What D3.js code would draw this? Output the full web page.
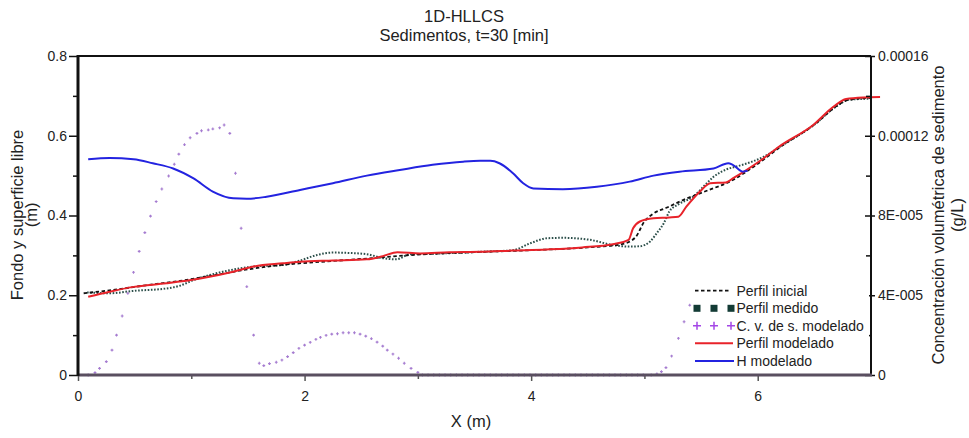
<!DOCTYPE html>
<html>
<head>
<meta charset="utf-8">
<script src="https://cdn.jsdelivr.net/npm/d3@7"></script>
<style>
  html, body { margin: 0; padding: 0; background: #fff; }
  svg { display: block; font-family: "Liberation Sans", Arial, sans-serif; }
</style>
</head>
<body>
<svg id="chart" width="969" height="438"></svg>
<script>
// ---------- DATA ----------
const titleLines = ["1D-HLLCS", "Sedimentos, t=30 [min]"];
const xTicks = [0, 2, 4, 6];
const xMinorTicks = [1, 3, 5];
const leftTicks = [0, 0.2, 0.4, 0.6, 0.8];
const leftTickLabels = ["0", "0.2", "0.4", "0.6", "0.8"];
const leftMinorTicks = [0.1, 0.3, 0.5, 0.7];
const rightTicks = [0, 0.00004, 0.00008, 0.00012, 0.00016];
const rightTickLabels = ["0", "4E-005", "8E-005", "0.00012", "0.00016"];
const rightMinorTicks = [0.00002, 0.00006, 0.0001, 0.00014];

// H modelado (free surface, m)
const hX = [0.09,0.28,0.49,0.66,0.84,1.02,1.19,1.37,1.49,1.665,1.96,2.25,2.55,2.84,3.13,3.40,3.55,3.64,3.72,3.84,3.93,4.02,4.28,4.58,4.87,5.08,5.31,5.61,5.74,5.78,5.87,5.91];
const hY = [0.541,0.544,0.541,0.531,0.518,0.493,0.460,0.443,0.442,0.447,0.464,0.481,0.500,0.514,0.527,0.535,0.537,0.537,0.531,0.506,0.481,0.468,0.466,0.472,0.485,0.500,0.510,0.518,0.531,0.527,0.510,0.512];

// Perfil modelado (bed, m)
const redX = [0.09,0.28,0.49,0.78,1.08,1.37,1.55,1.81,1.96,2.25,2.55,2.69,2.82,3.02,3.28,3.55,3.84,4.14,4.45,4.72,4.86,4.90,4.96,5.08,5.22,5.30,5.37,5.49,5.58,5.72,5.78,5.90,6.05,6.19,6.49,6.67,6.78,6.93,7.08];
const redY = [0.196,0.209,0.221,0.230,0.242,0.259,0.272,0.280,0.284,0.287,0.290,0.298,0.308,0.305,0.308,0.309,0.312,0.315,0.320,0.328,0.339,0.368,0.385,0.393,0.395,0.397,0.422,0.460,0.481,0.483,0.493,0.514,0.543,0.573,0.627,0.673,0.692,0.696,0.697];

// Perfil inicial (m)
const iniX = [0.05,0.3,0.6,0.9,1.2,1.5,1.8,2.2,2.6,3.0,3.5,4.0,4.5,4.8,4.92,5.0,5.08,5.2,5.35,5.55,5.78,5.9,6.05,6.2,6.5,6.7,6.8,7.0];
const iniY = [0.205,0.213,0.225,0.236,0.250,0.265,0.276,0.285,0.293,0.302,0.308,0.313,0.320,0.328,0.345,0.385,0.405,0.420,0.440,0.462,0.489,0.510,0.540,0.572,0.628,0.675,0.690,0.695];

// Perfil medido (m)
const medX = [0.08,0.28,0.49,0.78,0.90,1.02,1.22,1.55,1.81,1.96,2.11,2.25,2.40,2.55,2.69,2.81,2.93,3.13,3.55,3.84,3.99,4.14,4.28,4.52,4.72,4.87,4.96,5.05,5.12,5.17,5.22,5.30,5.43,5.55,5.61,5.72,5.84,5.95,6.05,6.2,6.5,6.7,6.8,7.0];
const medY = [0.207,0.205,0.211,0.217,0.224,0.238,0.255,0.272,0.276,0.287,0.301,0.307,0.306,0.303,0.293,0.290,0.303,0.304,0.309,0.313,0.330,0.343,0.344,0.339,0.326,0.322,0.323,0.335,0.360,0.380,0.410,0.428,0.447,0.481,0.497,0.515,0.525,0.535,0.547,0.573,0.628,0.675,0.690,0.693];

// C. v. de s. modelado (g/L), right axis
const concX = [0.09,0.15,0.19,0.25,0.30,0.34,0.39,0.44,0.49,0.54,0.59,0.64,0.69,0.74,0.80,0.85,0.89,0.94,0.99,1.05,1.09,1.15,1.19,1.25,1.29,1.34,1.39,1.44,1.49,1.55,1.60,1.64,1.69,1.75,1.80,1.85,1.90,1.95,2.00,2.05,2.10,2.14,2.19,2.24,2.29,2.34,2.39,2.44,2.49,2.54,2.59,2.64,2.69,2.73,2.78,2.83,2.88,2.94,3.00,3.04,
  3.09,3.14,3.19,3.24,3.29,3.34,3.39,3.44,3.49,3.54,3.59,3.64,3.69,3.74,3.79,3.84,3.89,3.94,3.99,4.04,4.09,4.14,4.19,4.24,4.29,4.34,4.39,4.44,4.49,4.54,4.59,4.64,4.69,4.74,4.79,4.84,4.89,4.94,4.99,
  5.06,5.11,5.15,5.19,5.24,5.30,5.35,5.40];
const concY = [0,0.0000012,0.0000033,0.0000067,0.0000125,0.00002,0.0000296,0.000041,0.0000515,0.000062,0.0000714,0.0000797,0.000087,0.0000933,0.0000998,0.0001057,0.0001108,0.0001155,0.000119,0.0001212,0.0001225,0.0001229,0.0001234,0.000124,0.0001254,0.0001212,0.0001012,0.0000736,0.0000443,0.00002,0.0000059,0.0000047,0.0000057,0.0000064,0.0000075,0.0000092,0.0000112,0.0000134,0.000015,0.0000164,0.0000179,0.0000189,0.0000199,0.0000205,0.0000207,0.0000212,0.0000212,0.0000212,0.0000205,0.0000195,0.0000182,0.0000165,0.0000145,0.0000125,0.0000105,0.0000084,0.0000059,0.0000033,0.0000013,0,
  0,0,0,0,0,0,0,0,0,0,0,0,0,0,0,0,0,0,0,0,0,0,0,0,0,0,0,0,0,0,0,0,0,0,0,0,0,0,0,
  0,0.0000005,0.0000017,0.0000037,0.0000095,0.0000184,0.0000267,0.000035];

const legendLabels = ["Perfil inicial", "Perfil medido", "C. v. de s. modelado", "Perfil modelado", "H modelado"];

// ---------- CHART ----------
const svg = d3.select("#chart");
const L = 78, R = 871, T = 56, B = 375;
const x = d3.scaleLinear().domain([0, 7]).range([L, R]);
const yL = d3.scaleLinear().domain([0, 0.8]).range([B, T]);
const yR = d3.scaleLinear().domain([0, 0.00016]).range([B, T]);
const textColor = "#222";

// title
svg.append("text").attr("x", 464).attr("y", 22).attr("text-anchor", "middle")
  .attr("font-size", 16.5).attr("fill", textColor).text(titleLines[0]);
svg.append("text").attr("x", 464).attr("y", 41).attr("text-anchor", "middle")
  .attr("font-size", 16.5).attr("fill", textColor).text(titleLines[1]);

const zip = (a, b) => a.map((v, i) => [v, b[i]]);
const lineL = d3.line().x(d => x(d[0])).y(d => yL(d[1])).curve(d3.curveMonotoneX);

// concentration markers
const conc = zip(concX, concY);
svg.append("g").selectAll("path").data(conc).join("path")
  .attr("d", d => {
    const cx = x(d[0]), cy = yR(d[1]), s = 1.4;
    return `M${cx - s},${cy}H${cx + s}M${cx},${cy - s}V${cy + s}`;
  })
  .attr("stroke", "#a57bd0").attr("stroke-width", 1.1).attr("fill", "none");

// medido
svg.append("path").datum(zip(medX, medY)).attr("d", lineL)
  .attr("fill", "none").attr("stroke", "#2c4f4a").attr("stroke-width", 2)
  .attr("stroke-dasharray", "1.6,1.6");
// inicial
svg.append("path").datum(zip(iniX, iniY)).attr("d", lineL)
  .attr("fill", "none").attr("stroke", "#111").attr("stroke-width", 1.8)
  .attr("stroke-dasharray", "3.5,2.5");
// red
svg.append("path").datum(zip(redX, redY)).attr("d", lineL)
  .attr("fill", "none").attr("stroke", "#e8232a").attr("stroke-width", 2);
// blue
svg.append("path").datum(zip(hX, hY)).attr("d", lineL)
  .attr("fill", "none").attr("stroke", "#2323e0").attr("stroke-width", 2);

// ---------- AXES ----------
function styleAxis(g, color) {
  g.select(".domain").remove();
  g.selectAll("line").attr("stroke", color).attr("stroke-width", 1.5);
  g.selectAll("text").attr("fill", textColor).attr("font-size", 14)
    .attr("font-family", '"Liberation Sans", Arial, sans-serif');
}
// left
svg.append("g").attr("transform", `translate(${L},0)`)
  .call(d3.axisLeft(yL).tickValues(leftTicks).tickSize(9).tickPadding(2)
    .tickFormat((d, i) => leftTickLabels[i]))
  .call(g => styleAxis(g, "#111"));
svg.append("g").attr("transform", `translate(${L},0)`)
  .call(d3.axisLeft(yL).tickValues(leftMinorTicks).tickSize(5).tickFormat(""))
  .call(g => styleAxis(g, "#111"));
// right
svg.append("g").attr("transform", `translate(${R},0)`)
  .call(d3.axisRight(yR).tickValues(rightTicks).tickSize(4).tickPadding(3)
    .tickFormat((d, i) => rightTickLabels[i]))
  .call(g => styleAxis(g, "#111"));
svg.append("g").attr("transform", `translate(${R},0)`)
  .call(d3.axisLeft(yR).tickValues(rightTicks).tickSize(6).tickFormat(""))
  .call(g => styleAxis(g, "#111"));
svg.append("g").attr("transform", `translate(${R},0)`)
  .call(d3.axisLeft(yR).tickValues(rightMinorTicks).tickSize(5).tickFormat(""))
  .call(g => styleAxis(g, "#111"));
// bottom
svg.append("g").attr("transform", `translate(0,${B})`)
  .call(d3.axisBottom(x).tickValues(xTicks).tickSize(6).tickPadding(10.5).tickFormat(d3.format("d")))
  .call(g => styleAxis(g, "#555"));
svg.append("g").attr("transform", `translate(0,${B})`)
  .call(d3.axisBottom(x).tickValues(xMinorTicks).tickSize(4).tickFormat(""))
  .call(g => styleAxis(g, "#555"));

// frame lines
svg.append("line").attr("x1", L - 1).attr("x2", R).attr("y1", T).attr("y2", T)
  .attr("stroke", "#111").attr("stroke-width", 2);
svg.append("line").attr("x1", R).attr("x2", R).attr("y1", T).attr("y2", B)
  .attr("stroke", "#111").attr("stroke-width", 2);
svg.append("line").attr("x1", L).attr("x2", R + 1).attr("y1", B).attr("y2", B)
  .attr("stroke", "#5a4f60").attr("stroke-width", 3);
svg.append("line").attr("x1", L).attr("x2", L).attr("y1", T - 1).attr("y2", B + 1)
  .attr("stroke", "#111").attr("stroke-width", 3);

// axis titles
svg.append("text").attr("x", 471).attr("y", 427).attr("text-anchor", "middle")
  .attr("font-size", 16.5).attr("fill", textColor).text("X (m)");
svg.append("text").attr("transform", "translate(23,215) rotate(-90)").attr("text-anchor", "middle")
  .attr("font-size", 16.5).attr("fill", textColor).text("Fondo y superficie libre");
svg.append("text").attr("transform", "translate(37,215) rotate(-90)").attr("text-anchor", "middle")
  .attr("font-size", 16.5).attr("fill", textColor).text("(m)");
svg.append("text").attr("transform", "translate(944,215) rotate(-90)").attr("text-anchor", "middle")
  .attr("font-size", 16.5).attr("fill", textColor).text("Concentración volumétrica de sedimento");
svg.append("text").attr("transform", "translate(963,215) rotate(-90)").attr("text-anchor", "middle")
  .attr("font-size", 16.5).attr("fill", textColor).text("(g/L)");

// ---------- LEGEND ----------
const leg = svg.append("g");
leg.append("rect").attr("x", 692).attr("y", 281).attr("width", 177).attr("height", 90).attr("fill", "#fff");
const rowY = [290.7, 308.3, 325.7, 343.3, 361];
const sx0 = 695, sx1 = 731, tx = 736.5;
legendLabels.forEach((lab, i) => {
  leg.append("text").attr("x", tx).attr("y", rowY[i]).attr("dy", "0.35em")
    .attr("font-size", 14).attr("fill", textColor).text(lab);
});
leg.append("line").attr("x1", sx0).attr("x2", sx1).attr("y1", rowY[0]).attr("y2", rowY[0])
  .attr("stroke", "#111").attr("stroke-width", 1.8).attr("stroke-dasharray", "3.5,2.5");
[697, 714, 731].forEach(cx => {
  leg.append("rect").attr("x", cx - 3.5).attr("y", rowY[1] - 3.5).attr("width", 7).attr("height", 7).attr("fill", "#133b35");
  leg.append("path").attr("d", `M${cx - 4},${rowY[2]}H${cx + 4}M${cx},${rowY[2] - 4}V${rowY[2] + 4}`)
    .attr("stroke", "#a447e6").attr("stroke-width", 1.5);
});
leg.append("line").attr("x1", sx0).attr("x2", sx1 + 2).attr("y1", rowY[3]).attr("y2", rowY[3])
  .attr("stroke", "#e8232a").attr("stroke-width", 2);
leg.append("line").attr("x1", sx0).attr("x2", sx1 + 3).attr("y1", rowY[4]).attr("y2", rowY[4])
  .attr("stroke", "#2323e0").attr("stroke-width", 2);
</script>
</body>
</html>
